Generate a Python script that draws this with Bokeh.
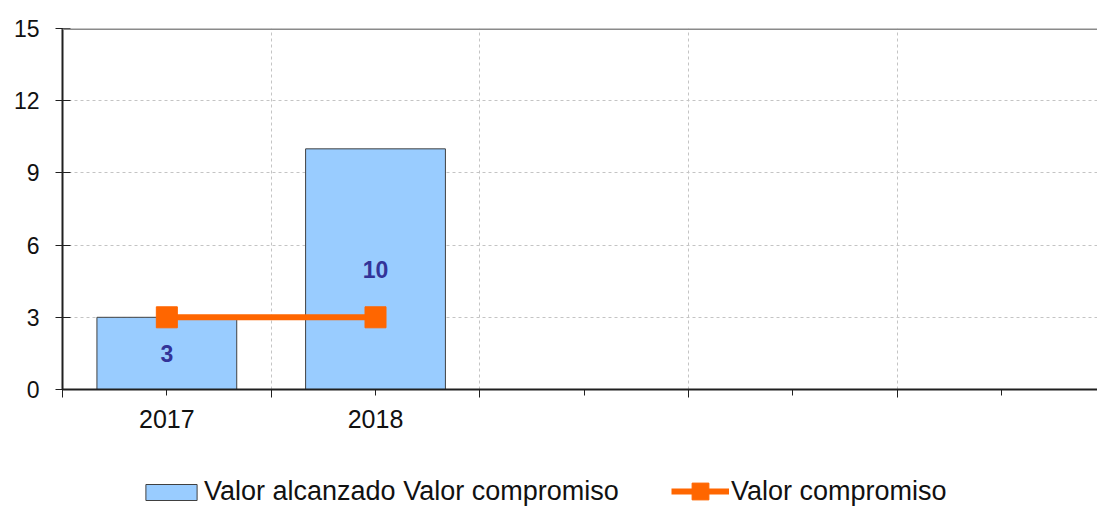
from bokeh.plotting import figure
from bokeh.layouts import column
from bokeh.models import (FixedTicker, Span, Legend, LegendItem, ColumnDataSource)
from bokeh.core.properties import value
from bokeh.embed import file_html
from bokeh.resources import INLINE

# ---- data ----
years = ["2017", "2018"]
valor_alcanzado = [3, 10]
valor_compromiso = [3, 3]
bar_label = "Valor alcanzado Valor compromiso"
line_label = "Valor compromiso"
y_ticks = [0, 3, 6, 9, 12, 15]

FONT = "Liberation Sans"
BAR_FILL = "#99CCFF"
BAR_LINE = "#404040"
ORANGE = "#FF6600"

# categories sit on odd slots of a 0..10 axis (two slots per category)
xs = [1 + 2 * i for i in range(len(years))]
mids = [v / 2 for v in valor_alcanzado]

p = figure(width=1097, height=455, x_range=(0, 9.92), y_range=(0, 15),
           output_backend="svg", toolbar_location=None,
           min_border_left=62, min_border_top=28, min_border_right=0,
           min_border_bottom=66)
p.outline_line_color = None

# grids
p.xgrid.ticker = FixedTicker(ticks=[2, 4, 6, 8])
p.ygrid.ticker = FixedTicker(ticks=[3, 6, 9, 12])
for g in (p.xgrid, p.ygrid):
    g.grid_line_color = "#c4c4c4"
    g.grid_line_dash = "3 3"
    g.grid_line_width = 1

# top border
p.add_layout(Span(location=15, dimension="width", line_color="#8a8a8a", line_width=3))

# axes
xa = p.xaxis[0]
xa.ticker = FixedTicker(ticks=[1, 3, 5, 7, 9], minor_ticks=[0, 2, 4, 6, 8, 10])
labels = {x: y for x, y in zip(xs, years)}
xa.major_label_overrides = {k: labels.get(k, "") for k in [1, 3, 5, 7, 9]}
xa.major_tick_in = 0
xa.major_tick_out = 6
xa.minor_tick_in = 0
xa.minor_tick_out = 8
xa.axis_line_width = 2
xa.axis_line_color = "#202020"
xa.major_tick_line_color = "#202020"
xa.minor_tick_line_color = "#202020"
xa.major_label_text_font = FONT
xa.major_label_text_font_size = "25px"
xa.major_label_text_color = "#111111"
xa.major_label_standoff = 12

ya = p.yaxis[0]
ya.ticker = FixedTicker(ticks=y_ticks)
ya.major_tick_in = 8
ya.major_tick_out = 7
ya.minor_tick_line_color = None
ya.axis_line_width = 2
ya.axis_line_color = "#202020"
ya.major_tick_line_color = "#202020"
ya.major_label_text_font = FONT
ya.major_label_text_font_size = "23px"
ya.major_label_text_color = "#111111"
ya.major_label_standoff = 16

src = ColumnDataSource(dict(x=xs, year=years, alc=valor_alcanzado,
                            comp=valor_compromiso, mid=mids,
                            txt=[str(v) for v in valor_alcanzado]))

p.vbar(x="x", top="alc", width=1.34, source=src,
       fill_color=BAR_FILL, line_color=BAR_LINE, line_width=1)

p.text(x="x", y="mid", text="txt", source=src, text_align="center",
       text_baseline="middle", text_font=value(FONT), text_font_style="bold",
       text_font_size="23px", text_color="#333399")

p.line(x="x", y="comp", source=src, line_color=ORANGE, line_width=6)
p.scatter(x="x", y="comp", source=src, marker="square", size=21,
          fill_color=ORANGE, line_color=ORANGE)

# ---- legend strip (separate figure so the legend is not clipped) ----
# its ranges lie far from the data, so the series renderers here only feed the legend
lf = figure(width=1097, height=52, x_range=(100, 101), y_range=(100, 101),
            output_backend="svg", toolbar_location=None,
            x_axis_location=None, y_axis_location=None,
            min_border=0, min_border_left=0, min_border_right=0,
            min_border_top=0, min_border_bottom=0)
lf.grid.visible = False
lf.outline_line_color = None

r_bar = lf.vbar(x="x", top="alc", width=1.34, source=src,
                fill_color=BAR_FILL, line_color=BAR_LINE, line_width=1)
r_ln = lf.line(x="x", y="comp", source=src, line_color=ORANGE, line_width=6)
r_sq = lf.scatter(x="x", y="comp", source=src, marker="square",
                  fill_color=ORANGE, line_color=ORANGE)

leg1 = Legend(items=[LegendItem(label=bar_label, renderers=[r_bar])],
              location=(77, 0), glyph_width=64, glyph_height=20,
              label_standoff=1)
leg2 = Legend(items=[LegendItem(label=line_label, renderers=[r_ln, r_sq])],
              location=(609, -5), glyph_width=58, glyph_height=42,
              label_standoff=2)
for lg in (leg1, leg2):
    lg.padding = 0
    lg.margin = 0
    lg.border_line_color = None
    lg.background_fill_alpha = 0
    lg.label_text_font = FONT
    lg.label_text_font_size = "27px"
    lg.label_text_color = "#111111"
    lf.add_layout(lg)

layout = column(p, lf, spacing=0)
open("out.html", "w").write(file_html(layout, INLINE))
